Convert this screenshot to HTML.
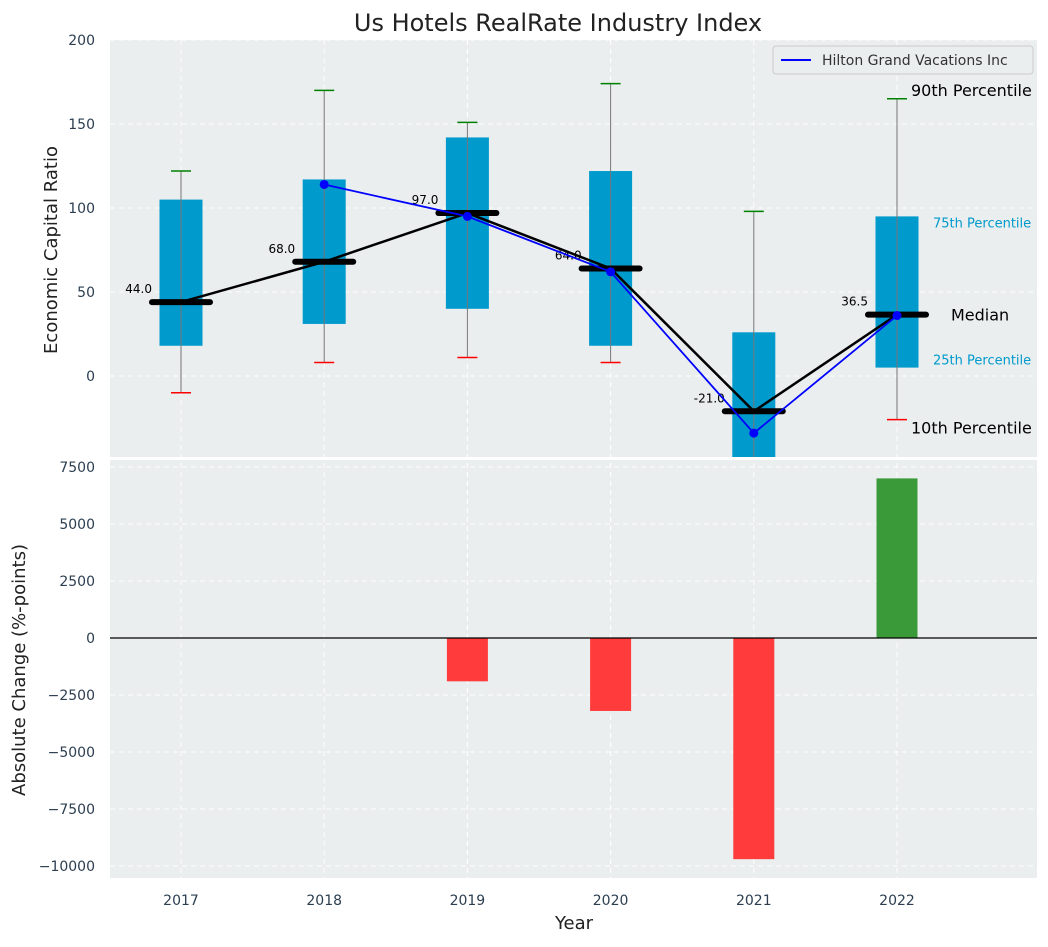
<!DOCTYPE html>
<html><head><meta charset="utf-8"><style>
body{margin:0;background:#fff;font-family:"Liberation Sans","DejaVu Sans",sans-serif}
</style></head><body>
<svg id="c" width="1048" height="942" xmlns="http://www.w3.org/2000/svg" font-family="DejaVu Sans, Liberation Sans, sans-serif">
<defs>
<clipPath id="ct"><rect x="110" y="40" width="927" height="417"/></clipPath>
<clipPath id="cb"><rect x="110" y="460" width="927" height="418"/></clipPath>
</defs>
<rect x="110" y="40" width="927" height="417" fill="#eaeeee"/>
<rect x="110" y="460" width="927" height="418" fill="#eaeeee"/>
<text x="558" y="31" font-size="24" text-anchor="middle" fill="#222">Us Hotels RealRate Industry Index</text>
<g id="gtop" clip-path="url(#ct)"></g>
<g id="gbot" clip-path="url(#cb)"></g>
<g id="ax"></g>
<text x="57" y="250" font-size="18" text-anchor="middle" fill="#222" transform="rotate(-90 57 250)">Economic Capital Ratio</text>
<text x="25" y="670" font-size="18" text-anchor="middle" fill="#222" transform="rotate(-90 25 670)">Absolute Change (%-points)</text>
<text x="574" y="929" font-size="18" text-anchor="middle" fill="#222">Year</text>
<g>
<rect x="773" y="46" width="260" height="28" fill="#eaeeee" stroke="#ccc" rx="3"/>
<line x1="781" y1="60" x2="811" y2="60" stroke="#0000ff" stroke-width="2"/>
<text x="822" y="65" font-size="14" fill="#333">Hilton Grand Vacations Inc</text>
</g>
</svg>
<script>
const years=["2017","2018","2019","2020","2021","2022"];
const p10=[-10,8,11,8,-50,-26];
const p25=[18,31,40,18,-49,5];
const p75=[105,117,142,122,26,95];
const p90=[122,170,151,174,98,165];
const medians=[44,68,97,64,-21,36.5];
const companyYears=[1,2,3,4,5];
const companyVals=[114,95,62,-34,36];
const changeVals=[null,null,-1900,-3200,-9700,7000];
const topTicks=[0,50,100,150,200];
const botTicks=[-10000,-7500,-5000,-2500,0,2500,5000,7500];
(function(){
const NS="http://www.w3.org/2000/svg";
const X=i=>181+i*143.2;
const YT=v=>376-1.68*v;
const YB=v=>638-v*0.0228;
function mk(p,tag,a){const e=document.createElementNS(NS,tag);for(const k in a)e.setAttribute(k,a[k]);p.appendChild(e);return e;}
const gTop=document.getElementById('gtop'),gBot=document.getElementById('gbot'),ax=document.getElementById('ax');
topTicks.forEach(t=>{const l=mk(gTop,'line',{x1:110,x2:1037,y1:YT(t),y2:YT(t),stroke:'#fff','stroke-dasharray':'5,4'});


const tx=mk(ax,'text',{x:95,y:YT(t)+5,'font-size':14,'text-anchor':'end',fill:'#2c3e50'});tx.textContent=t;

});
botTicks.forEach(t=>{const l=mk(gBot,'line',{x1:110,x2:1037,y1:YB(t),y2:YB(t),stroke:'#fff','stroke-dasharray':'5,4'});


const tx=mk(ax,'text',{x:95,y:YB(t)+5,'font-size':14,'text-anchor':'end',fill:'#2c3e50'});tx.textContent=(t<0?'\u2212'+(-t):t);

});
years.forEach((y,i)=>{[gTop,gBot].forEach(g=>{const l=mk(g,'line',{x1:X(i),x2:X(i),y1:40,y2:878,stroke:'#fff','stroke-dasharray':'5,4'});

});
const tx=mk(ax,'text',{x:X(i),y:905,'font-size':14,'text-anchor':'middle',fill:'#2c3e50'});tx.textContent=y;

});
years.forEach((y,i)=>{const x=X(i);
const b=mk(gTop,'rect',{x:x-21.5,y:YT(p75[i]),width:43,height:YT(p25[i])-YT(p75[i]),fill:'#009acd'});


const w=mk(gTop,'line',{x1:x,x2:x,y1:YT(p90[i]),y2:YT(p10[i]),stroke:'#777','stroke-width':1});


const c1=mk(gTop,'line',{x1:x-10,x2:x+10,y1:YT(p90[i]),y2:YT(p90[i]),stroke:'green','stroke-width':1.5});


const c2=mk(gTop,'line',{x1:x-10,x2:x+10,y1:YT(p10[i]),y2:YT(p10[i]),stroke:'red','stroke-width':1.5});

});
const ml=mk(gTop,'polyline',{points:medians.map((m,i)=>X(i)+','+YT(m)).join(' '),fill:'none',stroke:'#000','stroke-width':2.5});


medians.forEach((m,i)=>{const x=X(i);
const l=mk(gTop,'line',{x1:x-29,x2:x+29,y1:YT(m),y2:YT(m),stroke:'#000','stroke-width':6,'stroke-linecap':'round'});


const t=mk(gTop,'text',{x:x-29,y:YT(m)-9,'font-size':12,'text-anchor':'end',fill:'#000'});t.textContent=m.toFixed(1);

});
const cl=mk(gTop,'polyline',{points:companyYears.map((c,k)=>X(c)+','+YT(companyVals[k])).join(' '),fill:'none',stroke:'#0000ff','stroke-width':1.8});


companyYears.forEach((c,k)=>{const d=mk(gTop,'circle',{cx:X(c),cy:YT(companyVals[k]),r:4.5,fill:'#0000ff'});

});
const L=5,xr=X(L);
[["90th Percentile",p90[L],16,'#000',14,-3],["75th Percentile",p75[L],13,'#009acd',36,11],["Median",medians[L],16,'#000',54,6],["25th Percentile",p25[L],13,'#009acd',36,-3],["10th Percentile",p10[L],16,'#000',14,14]].forEach(a=>{
const t=mk(ax,'text',{x:xr+a[4],y:YT(a[1])+a[5],'font-size':a[2],fill:a[3]});t.textContent=a[0];

});
changeVals.forEach((v,i)=>{if(v==null)return;
const r=mk(gBot,'rect',{x:X(i)-20.5,y:Math.min(YB(v),YB(0)),width:41,height:Math.abs(YB(v)-YB(0)),fill:v<0?'#ff3b3b':'#3a9a3a'});

});
const z=mk(gBot,'line',{x1:110,x2:1037,y1:YB(0),y2:YB(0),stroke:'#000','stroke-width':1.2});


})();
</script>
</body></html>
